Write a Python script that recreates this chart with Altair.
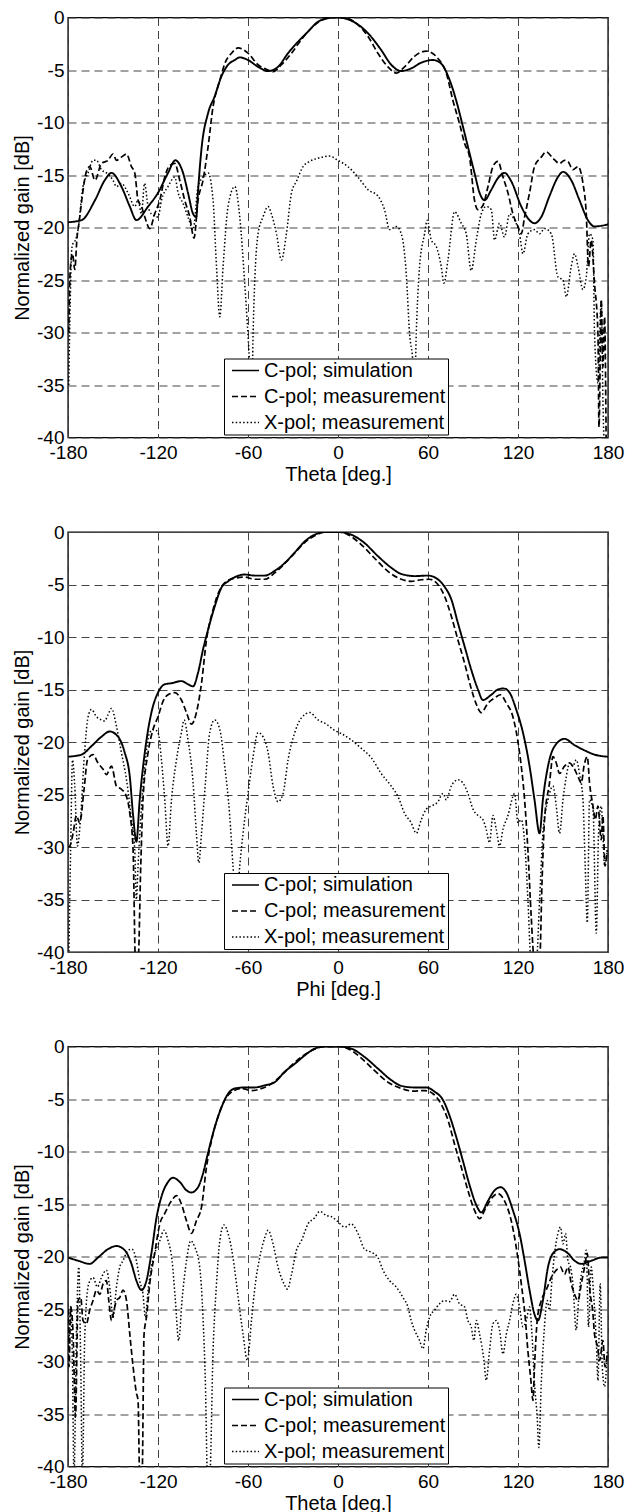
import altair as alt
import pandas as pd

LABELS = ["C-pol; simulation", "C-pol; measurement", "X-pol; measurement"]
X_TICKS = [-180, -120, -60, 0, 60, 120, 180]
Y_TICKS = [-40, -35, -30, -25, -20, -15, -10, -5, 0]
X_TITLES = ["Theta [deg.]", "Phi [deg.]", "Theta [deg.]"]

# ---------------- Panel 1 ----------------
p1_sim_x = [-180, -171, -162, -155.5, -151, -144.4, -138.8, -134.4, -126.6, -120, -113.3, -108.5, -103.3, -100, -96.6, -94.5, -93.3, -91, -86.6, -82.2, -77.7, -73.3, -68.8, -65.5, -60, -53.3, -46.6, -40, -33.3, -26.6, -20, -13.3, -7.7, -4, 0, 8.8, 20, 28.8, 35.5, 42.2, 48.8, 55.5, 63.3, 68.8, 74.4, 78.8, 83.3, 86.6, 91, 94.4, 97.7, 102.2, 106.6, 111, 115.5, 122.2, 127.7, 131, 135.5, 141, 146.6, 150, 155.5, 161, 166.6, 171, 180]
p1_sim_y = [-19.5, -19.3, -17.4, -15.5, -14.8, -16.1, -18, -19.3, -18, -16.7, -14.8, -13.6, -14.8, -16.7, -18.7, -19.0, -16.5, -12.5, -9.1, -7.5, -5.6, -4.5, -4.05, -3.8, -4.05, -4.7, -5.1, -4.7, -3.4, -2.3, -1.35, -0.4, -0.1, 0, 0, -0.3, -1.5, -3.1, -4.5, -5.1, -4.85, -4.3, -4.05, -4.4, -5.95, -7.9, -10.4, -12.3, -14.8, -16.7, -17.4, -16.4, -15.3, -14.8, -15.6, -18, -19.3, -19.6, -19, -17, -15.2, -14.7, -15.5, -17.4, -19.3, -19.9, -19.7]

p1_mea_x = [-179.5, -178.5, -177, -175.5, -174, -172.6, -170, -168, -165.5, -162, -157.7, -153.3, -150, -147.7, -144.4, -141, -137.7, -135.5, -133.3, -131, -128.8, -125.5, -122.2, -118.8, -115.5, -112.2, -108.8, -105.5, -102.2, -98.8, -96, -93.3, -90, -86.6, -83.3, -78.8, -75.5, -71, -66.6, -60, -53.3, -46.6, -43.3, -37.7, -31, -24.4, -17.7, -11, -4.4, 0, 6.6, 13.3, 20, 26.6, 33.3, 38.8, 44.4, 51, 58.8, 66.6, 72.2, 76.6, 81, 84.4, 87.7, 91, 93.3, 96.6, 100, 103.3, 106.6, 110, 113.3, 116.6, 120, 122.2, 124.4, 127.7, 131, 135.5, 138.8, 143.3, 147.7, 151, 153.3, 156.6, 160, 163.3, 165.5, 167, 168.8, 171, 173.3, 174, 175.5, 176.6, 177.7, 178.8]
p1_mea_y = [-30, -24, -22.5, -24, -21, -19.5, -16.5, -14.8, -14.2, -15.5, -13.9, -13.6, -13, -13.6, -13.3, -13, -14.2, -14.8, -17.4, -18, -19, -20.1, -18.7, -17.4, -15.2, -14.1, -13.9, -15.5, -17.4, -19, -21, -17.4, -15.5, -12.3, -8.5, -6, -4.4, -3.4, -2.9, -3.4, -4.5, -5, -5.15, -4.5, -3.4, -2.1, -1, -0.25, 0, 0, -0.1, -0.7, -1.8, -3.4, -4.7, -5.3, -4.7, -3.7, -3.2, -3.9, -5.3, -7.9, -10.1, -12, -13.3, -17.4, -18.3, -17.9, -16.1, -14.2, -13.7, -15.2, -16.7, -18.7, -19.9, -20.6, -19, -16.7, -14.2, -13.3, -12.8, -13.4, -13.9, -13.6, -13.7, -14.5, -14.2, -15.8, -18.7, -23.7, -21.2, -25.3, -30.1, -39, -26.9, -33.3, -28.5, -41]

p1_xp_x = [-179.5, -178.5, -177.5, -176.6, -175, -173.3, -170, -166.6, -163.3, -161, -157.7, -154.4, -150, -147.7, -144.4, -140, -135.5, -133.3, -131, -129, -126.6, -124.4, -120, -117.7, -113.3, -108.8, -106.6, -103.3, -100, -96.6, -93.3, -90, -86.6, -83.3, -81, -78.8, -76.6, -73.3, -68.8, -65.5, -62.2, -58.8, -57.5, -56.6, -53.3, -50, -46.6, -44.4, -41, -37.7, -34.4, -31, -27.7, -23.3, -18.8, -13.3, -5.6, 0, 6.6, 13.3, 20, 26.6, 31, 34.4, 38.8, 42.2, 45.5, 47.7, 50, 51, 52.2, 54.4, 57.7, 59.5, 62.2, 65.5, 68.8, 70.6, 73.3, 77.7, 82.2, 85.5, 88.8, 92.2, 95.5, 98.8, 102.2, 104.4, 107.7, 111, 114.4, 117.7, 121, 123.3, 126.6, 131, 134.4, 137.7, 142.2, 146.6, 150, 152.2, 155.5, 157.7, 160, 163.3, 165.5, 167.7, 170, 171, 173.3, 175.5, 176.6, 177.7, 179]
p1_xp_y = [-35, -27, -22.1, -21.5, -21.2, -20.2, -16.1, -14.8, -13.6, -13.6, -14.5, -14.8, -15.5, -16.1, -15.8, -16.7, -18, -17.4, -18.7, -15.8, -18, -18.7, -19, -17.4, -16.1, -15.2, -16.7, -17.7, -19, -20.2, -16.1, -15.2, -14.8, -17.4, -23.7, -28.5, -23.7, -18, -16.1, -19, -25.3, -33.3, -37, -30.1, -20.6, -19, -18, -18.7, -20.6, -23.1, -20.6, -16.7, -15.6, -14.2, -13.7, -13.4, -13.2, -13.6, -14.2, -15.2, -16.4, -17, -18.3, -20.2, -19.9, -20.6, -24.4, -30.1, -33, -36, -30, -23.7, -20.6, -19.3, -21.2, -21.8, -23.7, -25.3, -23.1, -18.5, -19.6, -20.6, -24.1, -21.2, -18.7, -18, -18.3, -21.2, -19.6, -20.9, -18.7, -19.3, -20.6, -22.5, -20.6, -20.2, -20.6, -20.1, -20.6, -24.7, -25, -26.6, -23.7, -22.5, -23.7, -25.9, -24.7, -20.6, -21.2, -30, -34.8, -26.9, -36.4, -41, -41]

# ---------------- Panel 2 ----------------
p2_sim_x = [-180, -171, -164.4, -157.7, -152.2, -146.6, -142.2, -138.8, -136.6, -134.4, -132.2, -128.8, -124.4, -120, -115.5, -111, -104.4, -100, -96.6, -93.3, -90, -86.6, -82.2, -77.7, -73.3, -68.8, -62.2, -55.5, -48.8, -42.2, -35.5, -28.8, -22.2, -15.5, -8.8, 0, 8.8, 17.7, 26.6, 35.5, 42.2, 51, 60, 65.5, 71, 75.5, 80, 84.4, 88.8, 93.3, 96.6, 102.2, 106.6, 110.6, 114.4, 118.8, 123.3, 127.7, 131, 134.4, 136.6, 140, 144.4, 151, 157.7, 164.4, 171, 180]
p2_sim_y = [-21.4, -21.2, -20.4, -19.5, -19, -19.5, -21, -23.3, -27, -29.5, -25.5, -21, -17.2, -15.3, -14.5, -14.4, -14.2, -14.5, -14.7, -13.4, -11.2, -9.3, -7.1, -5.3, -4.7, -4.3, -4.05, -4.15, -4.15, -3.7, -2.95, -1.95, -0.9, -0.25, 0, 0, -0.25, -1.05, -2.3, -3.4, -4, -4.2, -4.15, -4.4, -5.2, -6.4, -8.7, -10.9, -13.1, -15, -16, -15.5, -15, -14.9, -15.3, -16.9, -19.1, -22.3, -25.5, -28.7, -25.5, -22.3, -20.4, -19.7, -20.3, -20.8, -21.2, -21.4]

p2_mea_x = [-180, -178.8, -176.6, -174.4, -172.2, -169.3, -167, -163.3, -160, -156.6, -154.4, -151, -147.7, -144.4, -141, -138.8, -136.6, -135, -133.3, -131.5, -130, -126.6, -123.3, -120, -116.6, -113.3, -108.8, -104.4, -101, -97.7, -94.4, -91, -87.7, -83.3, -78.8, -74.4, -68.8, -62.2, -55.5, -48.8, -42.2, -35.5, -28.8, -22.2, -15.5, -8.8, 0, 6.6, 15.5, 24.4, 33.3, 42.2, 48.8, 55.5, 61, 66.6, 71, 75.5, 80, 84.4, 88.8, 92.2, 95.5, 100, 104.4, 108.4, 112.2, 116.6, 121, 124.4, 126.6, 128.8, 131, 134.4, 136, 137.7, 141, 143.3, 145.5, 147.7, 151, 154.4, 156.6, 160, 162.2, 164, 166.2, 167.7, 170, 171.5, 173.3, 175.5, 176.6, 178, 179.5]
p2_mea_y = [-30, -29.9, -28.7, -27, -27.7, -24.5, -21.7, -21.2, -22, -22.6, -23.1, -22.3, -24.2, -24.5, -25.2, -26.8, -30.3, -41, -41, -31.8, -25.5, -21, -18.8, -17.6, -16.1, -15.5, -15.3, -16, -17.2, -18.3, -17.2, -14.4, -10.3, -7.4, -5.5, -4.7, -4.4, -4.3, -4.5, -4.5, -3.9, -3, -2, -1, -0.35, 0, 0, -0.25, -1.2, -2.5, -3.75, -4.5, -4.7, -4.55, -4.5, -5, -6.1, -8, -10.3, -12.5, -14.9, -16.4, -17.2, -16.3, -15.8, -15.5, -16.3, -17.6, -21, -25.5, -30.3, -36.6, -41, -41, -33.4, -27.4, -23.9, -21.4, -22, -23, -22.3, -22, -22.3, -23.3, -23.9, -22.3, -21.4, -23.9, -26.1, -27.4, -26.1, -29.3, -27, -31.8, -30.3]

p2_xp_x = [-179.5, -178.2, -177, -175.5, -173.7, -171.5, -169.3, -166.6, -164.4, -161, -157.7, -155.5, -153.3, -151, -147.7, -144.4, -141, -137.7, -135.5, -134.4, -133.3, -131, -128.8, -125.5, -122.7, -120, -117.7, -115.5, -113.3, -111, -107.7, -104.4, -102.6, -100, -96.6, -94.4, -92.8, -91, -88.4, -85.5, -82.2, -78.8, -75.5, -72.2, -70, -67.7, -65.5, -63.3, -60, -56.6, -53.3, -50, -46.6, -43.3, -40, -36.6, -33.3, -28.8, -24.4, -18.8, -13.3, -7.7, -2.2, 2.2, 8.8, 15.5, 22.2, 28.8, 35.5, 40, 44.4, 48.8, 52.2, 55.5, 58.8, 62.2, 66.6, 70, 72.2, 75.5, 80, 83.3, 86.6, 90, 93.3, 96.6, 98.8, 101, 103.3, 105.5, 107.7, 110, 113.3, 116.6, 117.7, 120, 122.2, 124.8, 126.6, 128.8, 132.2, 134.4, 136.6, 140, 143.3, 145.5, 147.7, 150, 152.2, 154.4, 156.6, 158.8, 161, 163.3, 164.8, 166.2, 167.7, 170, 172.2, 173.7, 175.5, 176.6, 177.7, 179.5]
p2_xp_y = [-41, -29.9, -21.7, -24.2, -29.9, -27, -21.7, -17.6, -16.9, -17.6, -17.9, -18, -17.4, -16.8, -18.5, -21, -23.6, -27.4, -30.3, -35, -31.8, -26.1, -22.3, -19.1, -18.8, -19.1, -21.7, -25.5, -29.9, -25.5, -21.7, -19.1, -17.9, -19.8, -23.9, -28.7, -31.5, -28.7, -23.9, -19.1, -17.9, -18.8, -22.3, -27, -31.8, -36, -31.8, -28.7, -24.9, -21.4, -19.1, -19.5, -21, -24.2, -25.7, -24.9, -21.7, -19.1, -17.7, -17.2, -17.9, -18.3, -18.9, -19.2, -19.8, -20.6, -21.5, -23, -24.2, -25.2, -26.8, -27.7, -28.7, -27.4, -26.4, -26.1, -25.7, -24.9, -25.5, -24.2, -23.6, -23.9, -24.9, -26.4, -27, -27.4, -28.3, -29.6, -27, -28.3, -29.9, -28.3, -27, -25.2, -24.9, -27.7, -27.4, -30.3, -35, -41, -41, -35, -28.7, -25.5, -24.2, -26.1, -28.7, -25.5, -23.3, -22, -22.3, -21.7, -23, -25.5, -31.8, -37.2, -25.5, -26.4, -38.2, -28.7, -26.1, -28.7, -31.8, -30.3]

# ---------------- Panel 3 ----------------
p3_sim_x = [-180, -173.3, -165.5, -160, -153.3, -147.7, -142.2, -137.7, -134.4, -131, -127.7, -124.4, -121, -117.7, -113.3, -110, -105.5, -101, -97.7, -93.3, -90, -86.6, -82.2, -77.7, -73.3, -68.8, -62.2, -55.5, -48.8, -42.2, -35.5, -28.8, -22.2, -15.5, -8.8, 0, 8.8, 17.7, 26.6, 35.5, 42.2, 51, 58.8, 64.4, 70, 74.4, 78.8, 83.3, 87.7, 92.2, 95.5, 100, 104.4, 108.4, 112.2, 116.6, 121, 124.4, 127.7, 131, 133.3, 136.6, 140, 143.3, 147.7, 153.3, 157.7, 162.2, 169, 175.5, 180]
p3_sim_y = [-20.1, -20.4, -20.7, -20.1, -19.3, -19, -19.4, -20.7, -22.3, -23.2, -22.3, -19.7, -16.3, -14.3, -12.9, -12.5, -12.9, -13.7, -13.9, -13.4, -12.1, -10.1, -7.7, -5.8, -4.5, -4, -3.9, -3.9, -3.7, -3.4, -2.4, -1.65, -0.85, -0.2, 0, 0, -0.2, -1, -2.1, -3.2, -3.75, -3.9, -3.9, -4.3, -5.1, -6.6, -8.6, -10.9, -13.2, -15.1, -15.8, -14.7, -13.7, -13.4, -13.9, -15.6, -17.8, -20.4, -23.2, -25.5, -26.1, -24.2, -21, -19.7, -19.3, -19.7, -20.4, -20.7, -20.4, -20.1, -20.1]

p3_mea_x = [-180, -179.3, -178.2, -176.6, -175, -173.3, -171.5, -170, -167.7, -165.5, -163.3, -161, -158.8, -156.6, -154.4, -152.8, -151, -149.3, -147.7, -145.5, -143.3, -141, -138.8, -136.6, -134.4, -133.3, -132.2, -130.6, -129.3, -127.7, -125.5, -122.2, -118.8, -115.5, -111, -107.7, -104.4, -101, -97.7, -94.4, -91, -87.7, -84.4, -80, -75.5, -71, -64.4, -57.7, -51, -44.4, -37.7, -31, -24.4, -17.8, -11.1, -4.4, 0, 6.6, 15.5, 24.4, 33.3, 42.2, 50, 57.7, 63.3, 68.8, 73.3, 77.7, 82.2, 86.6, 91, 94.4, 98.8, 103.3, 106.6, 111, 115.5, 118.8, 122.2, 124.8, 126.6, 128.4, 130, 131, 132.8, 135.5, 138.8, 142.2, 145.5, 148.3, 151, 153.3, 155.5, 157.7, 160, 162.2, 164.4, 166.2, 167.7, 170, 171, 173, 174.4, 176.6, 178, 179.5]
p3_mea_y = [-25, -30.5, -24.8, -27.4, -35.3, -24.2, -23.9, -26.1, -26.4, -25.1, -24.2, -23.2, -23.6, -22.6, -22.3, -24.2, -26.1, -25.1, -24.2, -23.9, -23.2, -24.2, -27.4, -30.5, -33, -33.7, -41, -41, -27.4, -25.8, -22.6, -19.7, -16.9, -15.9, -14.7, -14.2, -15, -16.6, -17.8, -16.6, -15.3, -11.5, -9, -6.7, -5.1, -4.35, -4, -4.2, -4, -3.55, -2.75, -1.8, -1, -0.4, -0.05, 0, 0, -0.2, -1.1, -2.3, -3.4, -4, -4.25, -4.2, -4.5, -5.5, -7, -9.3, -11.5, -13.7, -15.6, -16.4, -15.3, -14.3, -14, -14.7, -16.6, -19.1, -22.6, -25.8, -29, -31.5, -33.7, -30.5, -26.1, -24.2, -23.2, -22, -21.3, -21, -21.7, -21, -22.6, -23.6, -24.2, -22.6, -21, -19.7, -22.9, -25.5, -27.4, -28.6, -29.9, -28, -30.5, -29.3]

p3_xp_x = [-179.5, -178.2, -177, -176, -174.4, -172.8, -171.5, -170.4, -168.8, -166.2, -163.3, -160.4, -157.7, -154.4, -152.2, -150, -147.7, -145.5, -143.3, -140, -137.3, -134.4, -132.2, -130, -128.4, -126.6, -124.4, -122.2, -118.8, -116, -113.3, -110.6, -108.4, -106.2, -104, -101, -98.2, -95.5, -92.2, -90, -88.4, -87, -85.5, -83.3, -81, -78.8, -76, -73.3, -70, -66.8, -63.3, -60.4, -57.7, -55.1, -52.2, -48.8, -46.6, -43.3, -40, -36, -33.7, -31, -27.7, -24.4, -20, -15.5, -12.2, -7.7, -4.4, 0, 4.4, 8.8, 13.3, 17.7, 22.2, 26.6, 30, 34.4, 38.8, 43.3, 46.6, 48.8, 51, 54.4, 56.6, 58.8, 61, 64.4, 67.7, 71, 74.4, 77.7, 81, 84.4, 86.6, 88.8, 90.6, 92.2, 94.4, 97.3, 98.8, 101, 103.3, 105.5, 107.7, 110, 112.2, 114.4, 116.6, 118.8, 121, 123.3, 125.5, 127.7, 129.3, 131, 132.8, 133.9, 135.5, 137.3, 139.5, 141, 142.6, 144.4, 146.6, 148.4, 150, 151.7, 153.3, 155, 156.6, 158.8, 160.4, 162.2, 164, 165.5, 167, 168.8, 170.4, 172.2, 173.3, 174.8, 176.2, 177.7, 179.5]
p3_xp_y = [-29, -24.8, -30.5, -41, -27.4, -21, -30.5, -41, -27.4, -22.6, -22, -22.9, -22, -21.3, -22.9, -25.8, -22.9, -21, -20.4, -19.4, -19.3, -20.4, -22.3, -23.6, -25.8, -23.2, -21, -19.7, -18.5, -17.5, -18.5, -20.4, -24.2, -28, -24.2, -20.4, -18.5, -19.1, -21, -25.8, -32.1, -41, -41, -29, -22.6, -18.5, -17, -17.8, -20.1, -23.6, -27.4, -29.9, -26.1, -22.6, -20.1, -18.2, -17.5, -18.8, -21, -22.6, -23.1, -21.7, -19.4, -18.5, -16.9, -16.3, -15.7, -16.1, -16.2, -16.7, -17.2, -16.9, -17.8, -19.3, -19.6, -20.1, -21.3, -22.3, -22.9, -23.9, -24.8, -26.1, -27, -28, -28.8, -27, -25.8, -25.1, -24.5, -24.2, -24.3, -23.6, -24.5, -24.8, -26.1, -26.7, -28, -26.1, -27.4, -29.9, -31.8, -29, -26.4, -26.1, -27, -29.3, -27.4, -26.1, -24.5, -23.6, -24.8, -26.7, -26.1, -24.8, -27.4, -32.1, -35.3, -38.2, -32.1, -27.4, -24.2, -25.1, -22.3, -19.7, -17.8, -17.2, -18.8, -17.8, -20.4, -21, -22.6, -27, -24.2, -21.7, -20.7, -19.4, -26.7, -21, -23.6, -28, -31.8, -22.6, -30.5, -32.4, -29]

PANELS = [
    [(p1_sim_x, p1_sim_y), (p1_mea_x, p1_mea_y), (p1_xp_x, p1_xp_y)],
    [(p2_sim_x, p2_sim_y), (p2_mea_x, p2_mea_y), (p2_xp_x, p2_xp_y)],
    [(p3_sim_x, p3_sim_y), (p3_mea_x, p3_mea_y), (p3_xp_x, p3_xp_y)],
]

FONT = "Liberation Sans"
HYPHEN_LABEL = "'' + datum.value"


def make_frame(series):
    rows = []
    for lab, (xs, ys) in zip(LABELS, series):
        for i, (a, b) in enumerate(zip(xs, ys)):
            rows.append({"x": a, "y": b, "s": lab, "o": i})
    return pd.DataFrame(rows)


def panel(series, xtitle):
    df = make_frame(series)
    return alt.Chart(df).mark_line(clip=True, color="black", interpolate="monotone").encode(
        x=alt.X("x:Q",
                scale=alt.Scale(domain=[-180, 180], nice=False, zero=False),
                axis=alt.Axis(values=X_TICKS, title=xtitle, labelPadding=6,
                              titlePadding=2, labelOverlap=False, labelFlush=False,
                              labelExpr=HYPHEN_LABEL)),
        y=alt.Y("y:Q",
                scale=alt.Scale(domain=[-40, 0], nice=False, zero=False),
                axis=alt.Axis(values=Y_TICKS, title="Normalized gain [dB]", labelPadding=4,
                              titlePadding=4, labelOverlap=False, labelFlush=False,
                              labelExpr=HYPHEN_LABEL)),
        strokeDash=alt.StrokeDash(
            "s:N",
            scale=alt.Scale(domain=LABELS, range=[[1, 0], [6, 3], [1.5, 2.2]]),
            legend=alt.Legend(
                title=None, orient="none", legendX=156, legendY=341,
                symbolType="stroke", symbolSize=729, symbolStrokeWidth=1.6,
                symbolStrokeColor="black", labelFont=FONT, labelFontSize=20,
                labelColor="black", labelLimit=0, strokeColor="black", fillColor="white",
                padding=2, rowPadding=6, clipHeight=20, symbolOffset=5,
                labelOffset=4, cornerRadius=0,
            ),
        ),
        strokeWidth=alt.StrokeWidth(
            "s:N", scale=alt.Scale(domain=LABELS, range=[1.9, 1.5, 1.6]), legend=None),
        detail="s:N",
        order="o:Q",
    ).properties(width=540, height=420)


charts = [panel(PANELS[i], X_TITLES[i]) for i in range(3)]

chart = alt.vconcat(*charts, spacing=94.5, bounds="flush").resolve_legend(
    strokeDash="independent"
).resolve_scale(strokeDash="independent").configure_view(
    stroke="black", strokeWidth=1.4
).configure_axis(
    labelFont=FONT, labelFontSize=19, labelColor="black",
    titleFont=FONT, titleFontSize=20, titleFontWeight="normal", titleColor="black",
    domain=False, ticks=False, grid=True, gridColor="#444444",
    gridDash=[8, 5], gridWidth=1,
).properties(
    padding={"left": 11, "top": 7.5, "right": 0, "bottom": 0},
    background="white",
)

chart.save("out.html", embed_options={"renderer": "svg", "actions": False})
